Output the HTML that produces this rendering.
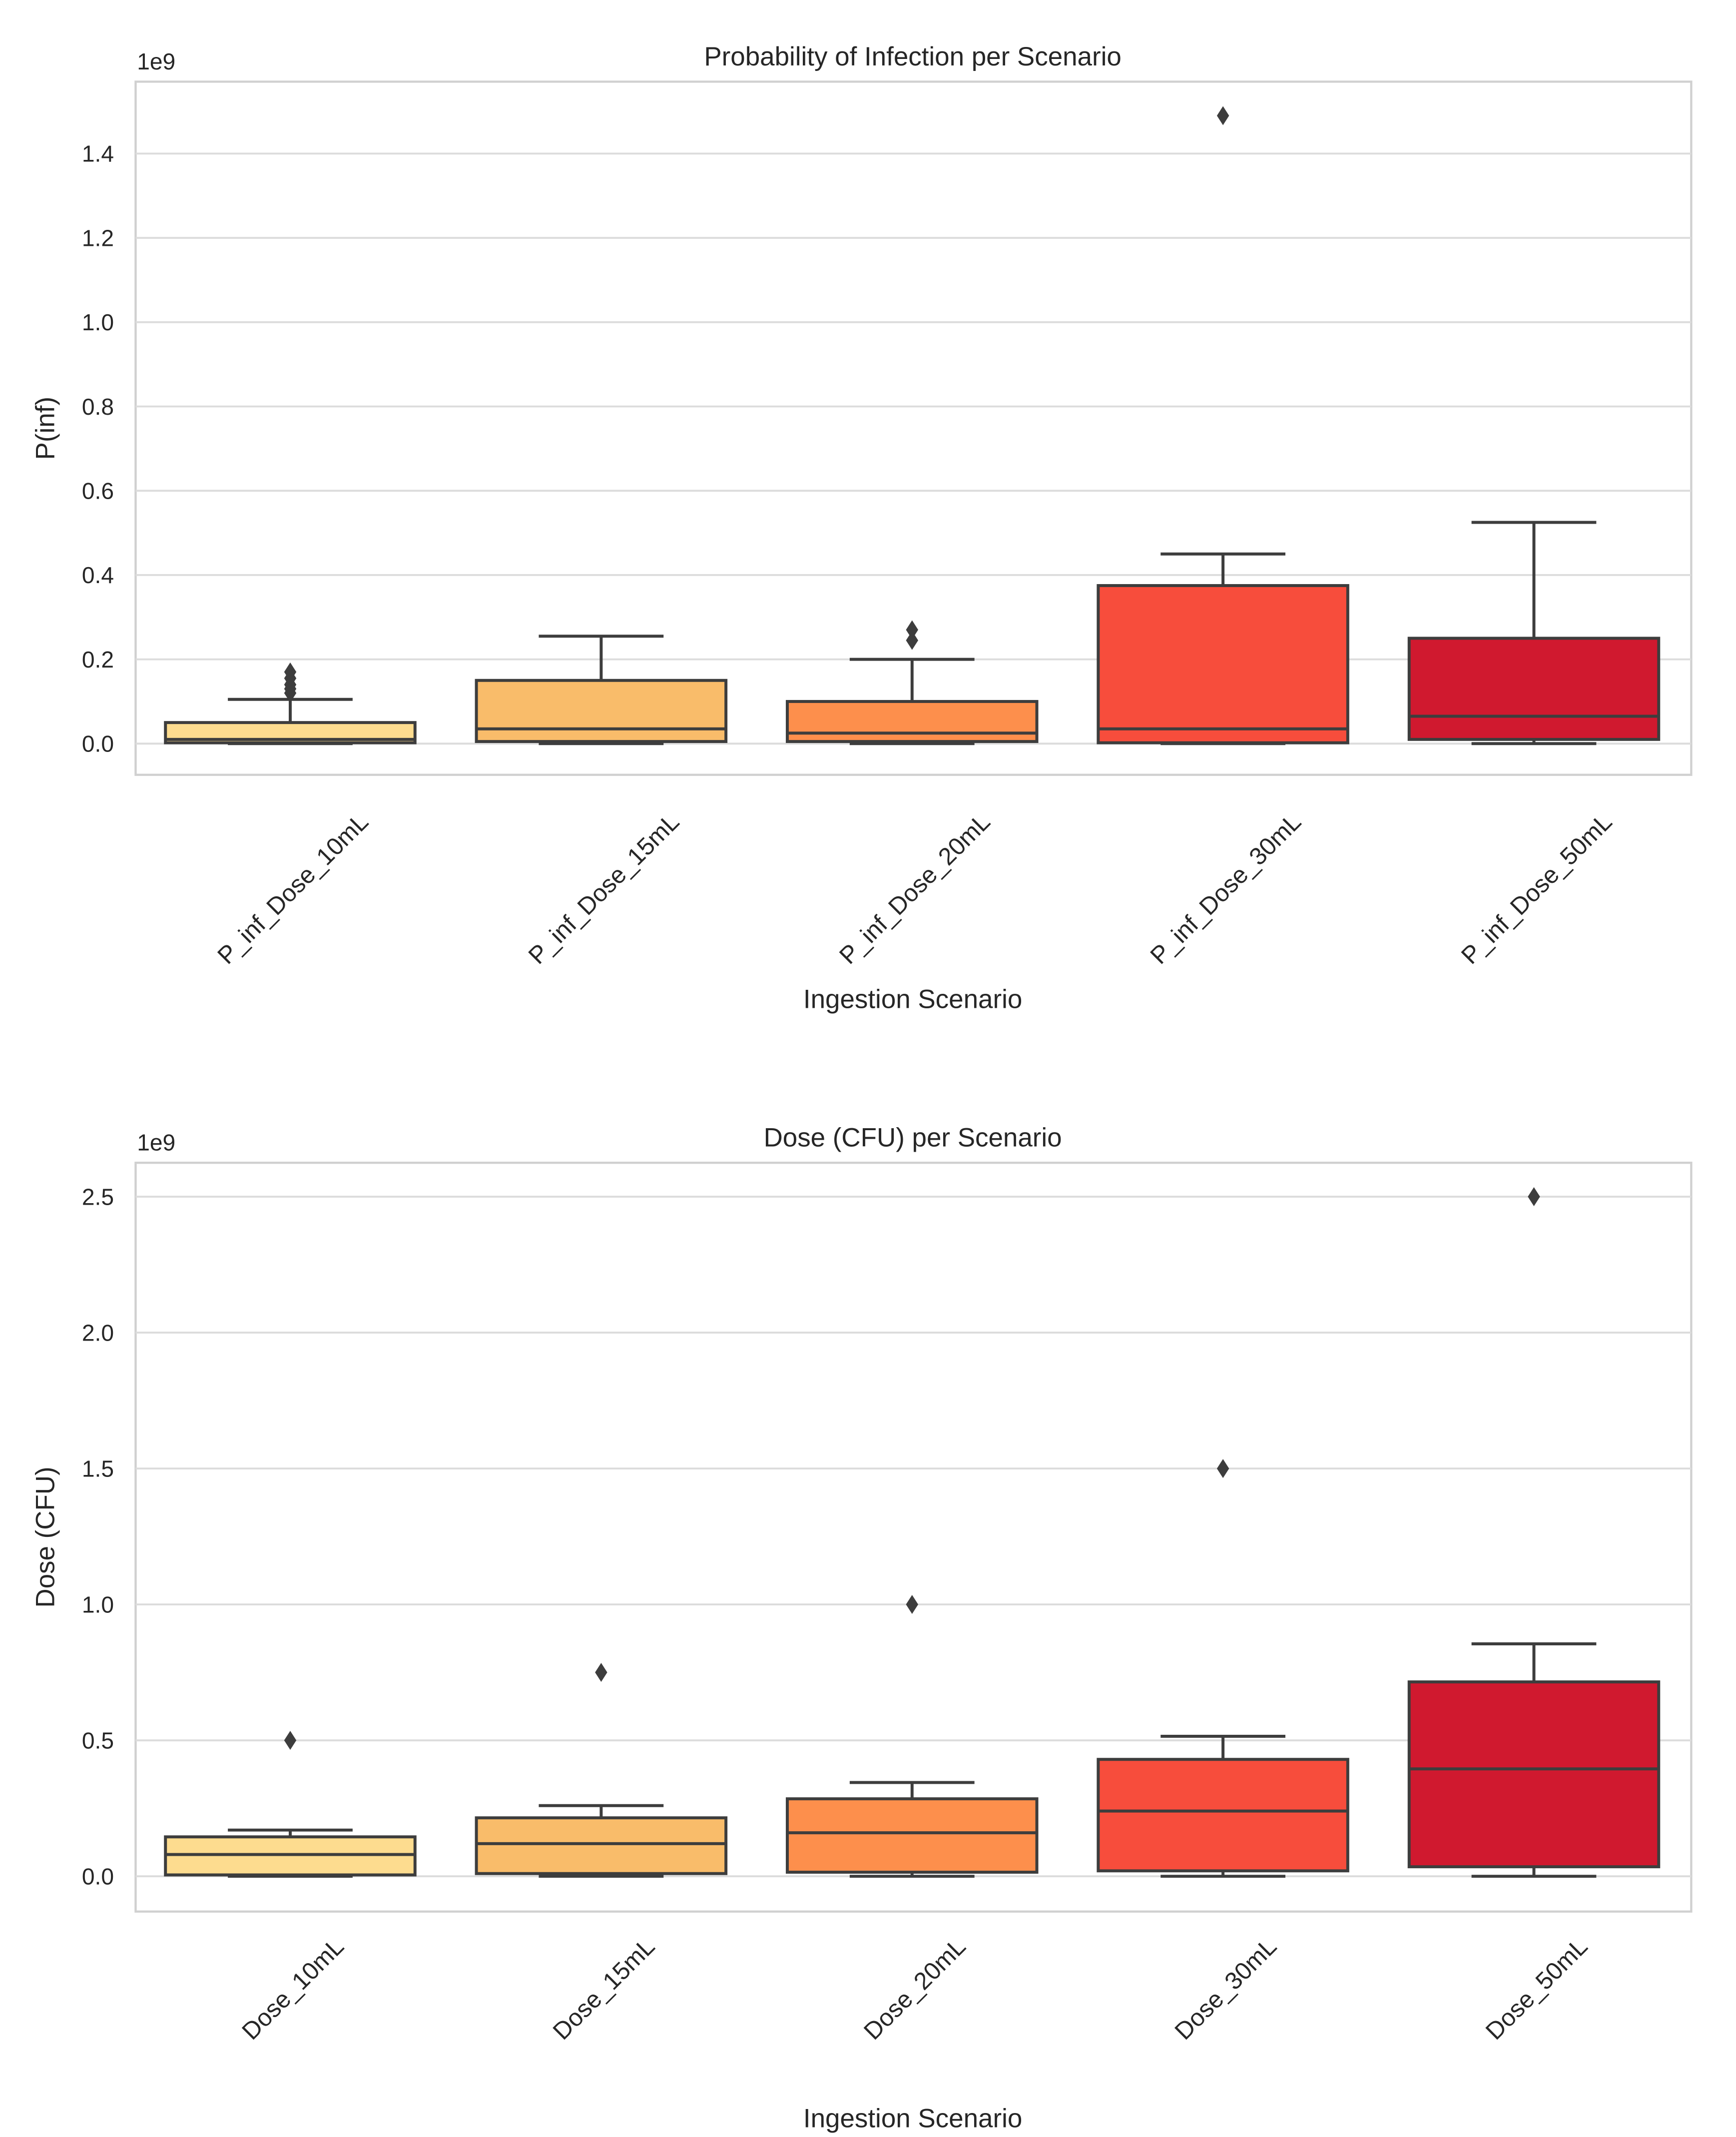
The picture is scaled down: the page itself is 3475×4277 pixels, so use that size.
<!DOCTYPE html>
<html><head><meta charset="utf-8">
<style>
html,body{margin:0;padding:0;background:#fff;}
svg{display:block;}
text{font-family:"Liberation Sans","DejaVu Sans",sans-serif;fill:#262626;}
</style></head>
<body>
<svg id="chart" xmlns="http://www.w3.org/2000/svg" width="3475" height="4277" viewBox="0 0 1280 1575"></svg>
<script>
// ---- data (values in units of 1e9) ----
const pCategories = ["P_inf_Dose_10mL","P_inf_Dose_15mL","P_inf_Dose_20mL","P_inf_Dose_30mL","P_inf_Dose_50mL"];
const pWhiskerLow = [0,0,0,0,0];
const pQ1 = [0.002,0.005,0.005,0.002,0.01];
const pMedian = [0.01,0.035,0.025,0.035,0.065];
const pQ3 = [0.05,0.15,0.10,0.375,0.25];
const pWhiskerHigh = [0.105,0.255,0.2,0.45,0.525];
const pOutliers = [[0.12,0.13,0.14,0.155,0.17],[],[0.245,0.27],[1.49],[]];
const pTicks = [0.0,0.2,0.4,0.6,0.8,1.0,1.2,1.4];

const dCategories = ["Dose_10mL","Dose_15mL","Dose_20mL","Dose_30mL","Dose_50mL"];
const dWhiskerLow = [0,0,0,0,0];
const dQ1 = [0.005,0.01,0.015,0.02,0.035];
const dMedian = [0.08,0.12,0.16,0.24,0.395];
const dQ3 = [0.145,0.215,0.285,0.43,0.715];
const dWhiskerHigh = [0.17,0.26,0.345,0.515,0.855];
const dOutliers = [[0.5],[0.75],[1.0],[1.5],[2.5]];
const dTicks = [0.0,0.5,1.0,1.5,2.0,2.5];

const colors = ["#fddc8f","#f9bc6a","#fd8f4c","#f74d3c","#d0192f"];

const svg = document.getElementById('chart');
const NS = "http://www.w3.org/2000/svg";
function mk(tag, attrs, parent){ const e=document.createElementNS(NS,tag); for(const k in attrs) e.setAttribute(k,attrs[k]); (parent||svg).appendChild(e); return e; }

function drawPanel(o){
  const g = mk('g',{});
  
  
  const L=100,R=1247;
  const y = v => o.y0 - v*o.scale;
  const x = i => 214 + i*229.25;
  const fr = mk('rect',{x:L,y:o.top,width:R-L,height:o.bottom-o.top,fill:'#fff',stroke:'#d0d0d0','stroke-width':1.6},g);
  
  
  o.ticks.forEach(t=>{
    const ln = mk('line',{x1:L,x2:R,y1:y(t),y2:y(t),stroke:'#dcdcdc','stroke-width':1.4},g);
    
    
    const tx = mk('text',{x:L-16,y:y(t)+6,'text-anchor':'end','font-size':17},g);
    tx.textContent = t.toFixed(1);
    
    
  });
  const ex = mk('text',{x:101,y:o.top-9,'font-size':17},g); ex.textContent='1e9';
  
  
  const tt = mk('text',{x:673,y:o.top-12,'text-anchor':'middle','font-size':19.5},g); tt.textContent=o.title;
  
  
  const yl = mk('text',{x:0,y:0,'text-anchor':'middle','font-size':19.5,transform:`translate(40,${(o.top+o.bottom)/2}) rotate(-90)`},g); yl.textContent=o.ylabel;
  
  
  const xl = mk('text',{x:673,y:o.xtitleY,'text-anchor':'middle','font-size':19.5},g); xl.textContent='Ingestion Scenario';
  
  
  const hw=92, cap=46, st='#3d3d3d';
  o.cats.forEach((c,i)=>{
    const cx=x(i);
    const bg = mk('g',{},g);
    
    
    mk('line',{x1:cx,x2:cx,y1:y(o.q3[i]),y2:y(o.wh[i]),stroke:st,'stroke-width':2.2},bg);
    mk('line',{x1:cx,x2:cx,y1:y(o.q1[i]),y2:y(o.wl[i]),stroke:st,'stroke-width':2.2},bg);
    mk('line',{x1:cx-cap,x2:cx+cap,y1:y(o.wh[i]),y2:y(o.wh[i]),stroke:st,'stroke-width':2.2},bg);
    mk('line',{x1:cx-cap,x2:cx+cap,y1:y(o.wl[i]),y2:y(o.wl[i]),stroke:st,'stroke-width':2.2},bg);
    mk('rect',{x:cx-hw,y:y(o.q3[i]),width:2*hw,height:Math.max(1,y(o.q1[i])-y(o.q3[i])),fill:colors[i],stroke:st,'stroke-width':2.2},bg);
    mk('line',{x1:cx-hw,x2:cx+hw,y1:y(o.med[i]),y2:y(o.med[i]),stroke:st,'stroke-width':2.2},bg);
    o.out[i].forEach(v=>{
      const p = mk('path',{d:`M${cx},${y(v)-7} L${cx+4.5},${y(v)} L${cx},${y(v)+7} L${cx-4.5},${y(v)} Z`,fill:st},bg);
      
      
    });
    const lab = mk('text',{x:0,y:6,'text-anchor':'middle','font-size':18,transform:`translate(${cx+2},${o.labelY}) rotate(-45)`},g);
    lab.textContent=c;
    
    
  });
}
drawPanel({name:'probability-panel',title:'Probability of Infection per Scenario',ylabel:'P(inf)',top:60,bottom:571,y0:548,scale:310.7,
  labelY:655,xtitleY:743,
  ticks:pTicks,cats:pCategories,wl:pWhiskerLow,q1:pQ1,med:pMedian,q3:pQ3,wh:pWhiskerHigh,out:pOutliers});
drawPanel({name:'dose-panel',title:'Dose (CFU) per Scenario',ylabel:'Dose (CFU)',top:857,bottom:1409,y0:1383,scale:200.4,
  labelY:1466,xtitleY:1568,
  ticks:dTicks,cats:dCategories,wl:dWhiskerLow,q1:dQ1,med:dMedian,q3:dQ3,wh:dWhiskerHigh,out:dOutliers});
</script>
</body></html>
